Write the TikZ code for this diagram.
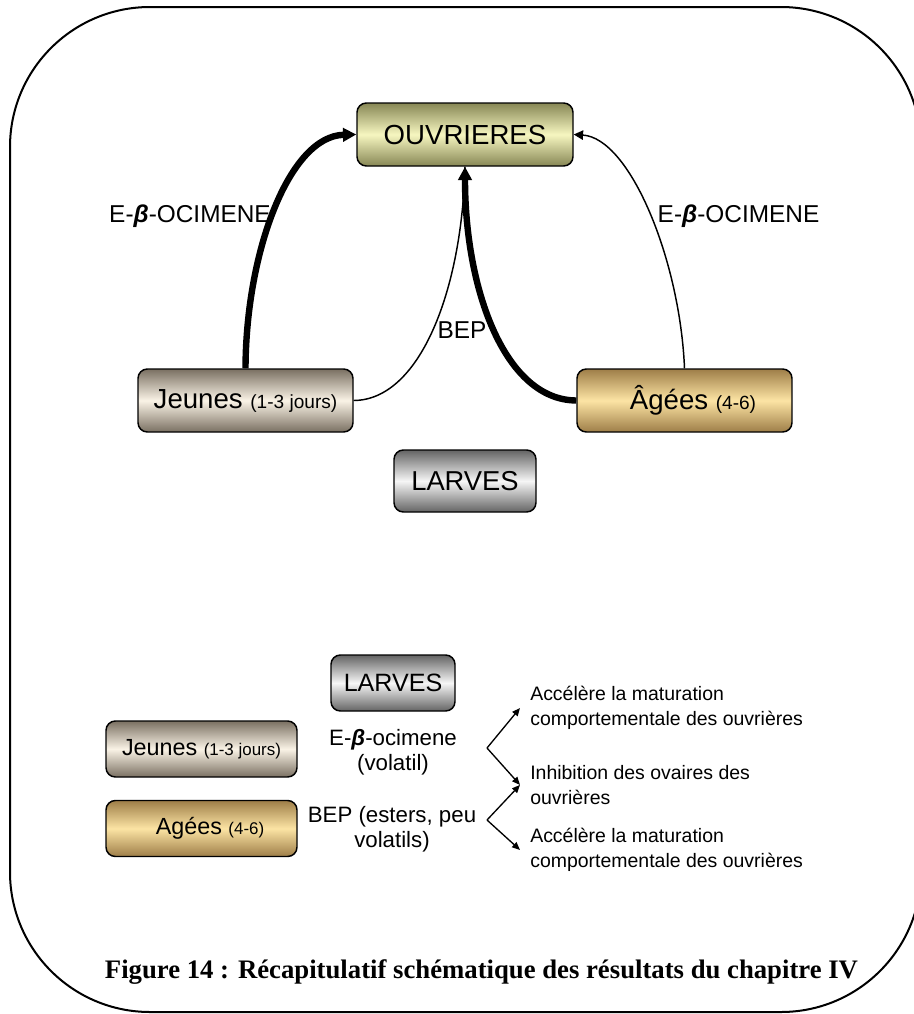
\documentclass[tikz,border=0pt]{standalone}
\usepackage{graphicx}
\usepackage{fontspec}
\setmainfont{Liberation Sans}
\newfontfamily\capfont{Liberation Serif}
\usetikzlibrary{arrows.meta}
\definecolor{ouvD}{RGB}{135,135,85}
\definecolor{ouvL}{RGB}{246,246,192}
\definecolor{jeuD}{RGB}{122,112,98}
\definecolor{jeuL}{RGB}{250,243,230}
\definecolor{ageD}{RGB}{158,126,72}
\definecolor{ageL}{RGB}{252,228,164}
\definecolor{larD}{RGB}{100,100,100}
\definecolor{larL}{RGB}{246,246,246}
\begin{document}
\begin{tikzpicture}[x=0.75pt,y=-0.75pt,
  box/.style={draw=black, line width=1.1pt, rounded corners=7pt, inner sep=0pt, align=center},
  ouvbox/.style={box, top color=ouvD, bottom color=ouvD, middle color=ouvL},
  jeubox/.style={box, top color=jeuD, bottom color=jeuD, middle color=jeuL},
  agebox/.style={box, top color=ageD, bottom color=ageD, middle color=ageL},
  larbox/.style={box, top color=larD, bottom color=larD, middle color=larL},
  bigsize/.style={minimum width=161.25pt, minimum height=47.25pt},
  smallsize/.style={minimum width=143.25pt, minimum height=42pt},
  bigfont/.style={font=\fontsize{20.7pt}{24pt}\selectfont},
  midfont/.style={font=\fontsize{17.5pt}{21pt}\selectfont},
  lbl/.style={inner sep=0pt, font=\fontsize{18.3pt}{22pt}\selectfont},
  centerlbl/.style={inner sep=0pt, align=center, font=\fontsize{16.7pt}{18.75pt}\selectfont},
  effect/.style={inner xsep=7.5pt, inner ysep=0pt, align=left, font=\fontsize{14.6pt}{18.75pt}\selectfont},
  thickarrow/.style={line width=4.8pt, -{Triangle[length=10pt,width=10pt]}},
  thinarrow/.style={line width=1.1pt, -{Triangle[length=7pt,width=7pt]}},
  thinline/.style={line width=1.1pt},
  branch/.style={line width=1pt, -{Triangle[length=6pt,width=5pt]}},
  frame/.style={line width=1.5pt, rounded corners=105pt}
]
\useasboundingbox (0,0) rectangle (914,1014);
\clip (0,0) rectangle (914,1014);
\draw[frame] (10,7) rectangle (921,1012);

% upper part
\node[ouvbox, bigsize, bigfont, minimum width=162pt] (O) at (465,134.5) {OUVRIERES};
\node[jeubox, bigsize, bigfont] (J) at (245.5,400.5) {Jeunes {\fontsize{14.3pt}{17pt}\selectfont (1-3 jours)}};
\node[agebox, bigsize, bigfont] (A) at (684.5,400.5) {\hspace*{12.75pt}Âgées {\fontsize{14.3pt}{17pt}\selectfont (4-6)}};
\node[larbox, minimum width=106.5pt, minimum height=46.5pt, font=\fontsize{20.5pt}{24pt}\selectfont] (L1) at (465,481) {LARVES};

\draw[thickarrow] (J.north) .. controls (246,250) and (290,136) .. (O.west);
\draw[thinarrow] (A.north) .. controls (680,260) and (630,138) .. (O.east);
\draw[thinline] (J.east) .. controls (420,400) and (462,290) .. (O.south);
\draw[thickarrow] (A.west) .. controls (505,400) and (465,290) .. (O.south);

\node[lbl, anchor=base] (eb1) at (190,222) {E-\textbf{\textit{β}}-OCIMENE};
\node[lbl, anchor=base] (eb2) at (738.5,222) {E-\textbf{\textit{β}}-OCIMENE};
\node[lbl, anchor=base] (bep) at (462,338) {BEP};

% lower part
\node[larbox, minimum width=93pt, minimum height=42pt, font=\fontsize{18.8pt}{22pt}\selectfont] (L2) at (393,683) {LARVES};
\node[jeubox, smallsize, midfont] (J2) at (201.5,749) {Jeunes {\fontsize{12.7pt}{15pt}\selectfont (1-3 jours)}};
\node[agebox, smallsize, midfont] (A2) at (201.5,828.5) {\hspace*{12.75pt}Agées {\fontsize{12.7pt}{15pt}\selectfont (4-6)}};

\node[centerlbl, anchor=north] (ebo) at (393,729) {E-\textbf{\textit{β}}-ocimene\\(volatil)};
\node[centerlbl, anchor=north] (bepl) at (392,806) {BEP (esters, peu\\volatils)};

\node[effect, anchor=north west] (t1) at (520,686) {Accélère la maturation\\comportementale des ouvrières};
\node[effect, anchor=north west] (t2) at (520,765) {Inhibition des ovaires des\\ouvrières};
\node[effect, anchor=north west] (t3) at (520,828) {Accélère la maturation\\comportementale des ouvrières};

\coordinate (v1) at (487,748);
\coordinate (v2) at (487,820);
\draw[branch] (v1) -- (t1.west);
\draw[branch] (v1) -- (t2.west);
\draw[branch] (v2) -- (t2.west);
\draw[branch] (v2) -- (t3.west);

\node[anchor=base, inner sep=0pt] (cap) at (481.5,978) {\resizebox{564.75pt}{!}{\capfont\bfseries Figure 14 : Récapitulatif schématique des résultats du chapitre IV}};
\end{tikzpicture}
\end{document}
